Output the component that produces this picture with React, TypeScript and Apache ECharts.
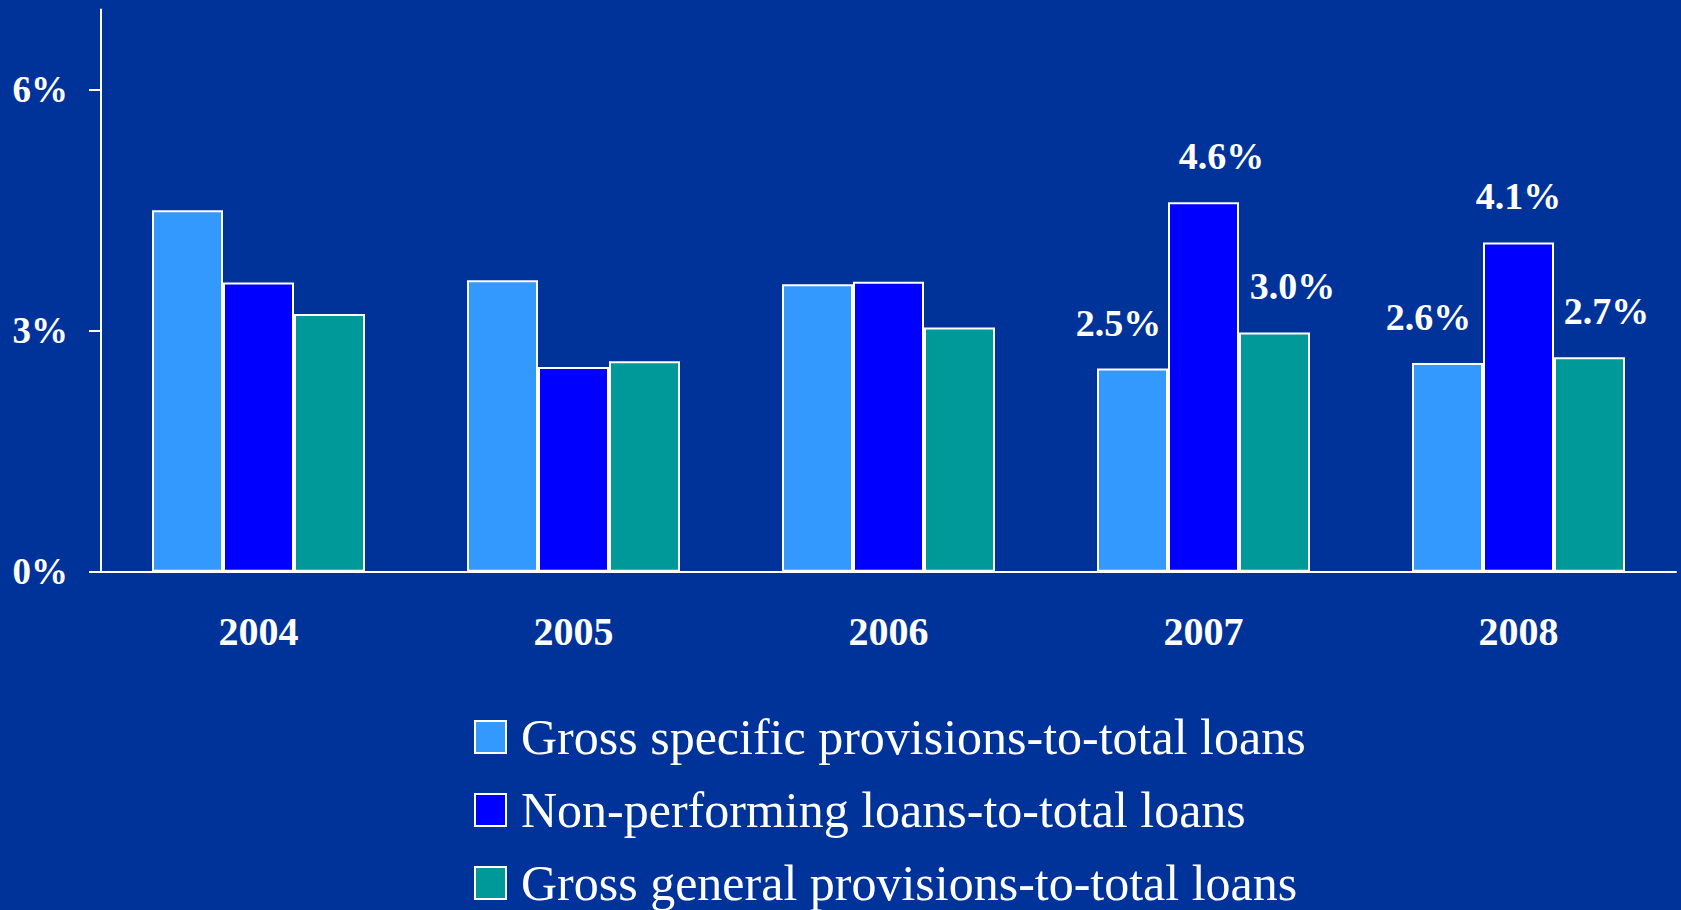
import React, { useEffect, useRef } from "react";
import * as echarts from "echarts";

const years = ["2004", "2005", "2006", "2007", "2008"];
const seriesNames = [
  "Gross specific provisions-to-total loans",
  "Non-performing loans-to-total loans",
  "Gross general provisions-to-total loans",
];
const specificProvisions = [4.5, 3.63, 3.58, 2.53, 2.6];
const nonPerforming = [3.6, 2.55, 3.61, 4.6, 4.1];
const generalProvisions = [3.21, 2.62, 3.04, 2.98, 2.67];
const yTicks = [0, 3, 6];
const labeledYears = ["2007", "2008"];

const colors = ["#3399FF", "#0000FF", "#009999"];
const labelOffsetsX = [
  [0, 0, 0, -14, -19],
  [0, 0, 0, 18, 0],
  [0, 0, 0, 18, 17],
];

const FONT = "'Liberation Serif', 'Times New Roman', serif";

export default function App() {
  const ref = useRef<HTMLDivElement>(null);
  useEffect(() => {
    document.body.style.margin = "0";
    const chart = echarts.init(ref.current!, null, { renderer: "svg" });
    const values = [specificProvisions, nonPerforming, generalProvisions];
    chart.setOption({
      animation: false,
      backgroundColor: "#003399",
      grid: { left: 101, right: 5, top: 9.6, bottom: 338.3, containLabel: false },
      legend: {
        orient: "vertical",
        left: 469,
        top: 707,
        height: 400,
        icon: "rect",
        itemWidth: 31,
        itemHeight: 32,
        itemGap: 23,
        data: seriesNames,
        textStyle: {
          color: "#ffffff",
          fontFamily: FONT,
          fontSize: 50,
          padding: [0, 0, 0, 10],
        },
      },
      xAxis: {
        type: "category",
        data: years,
        axisLine: { lineStyle: { color: "#ffffff", width: 2 } },
        axisTick: { length: 12, lineStyle: { color: "#ffffff", width: 2 } },
        axisLabel: {
          color: "#ffffff",
          fontFamily: FONT,
          fontWeight: "bold",
          fontSize: 40,
          margin: 40,
        },
      },
      yAxis: {
        type: "value",
        min: 0,
        max: 7,
        splitLine: { show: false },
        axisLine: { show: true, lineStyle: { color: "#ffffff", width: 2 } },
        axisTick: {
          show: true,
          length: 12,
          customValues: yTicks,
          lineStyle: { color: "#ffffff", width: 2 },
        },
        axisLabel: {
          customValues: yTicks,
          color: "#ffffff",
          fontFamily: FONT,
          fontWeight: "bold",
          fontSize: 37,
          margin: 33,
          formatter: (v: number) => `${v}%`,
        },
      },
      series: seriesNames.map((name, s) => ({
        name,
        type: "bar",
        barWidth: 71,
        barGap: "0%",
        itemStyle: { color: colors[s], borderColor: "#ffffff", borderWidth: 2 },
        label: {
          position: "top",
          distance: 27,
          color: "#ffffff",
          fontFamily: FONT,
          fontWeight: "bold",
          fontSize: 38,
          formatter: (p: any) => `${Number(p.value).toFixed(1)}%`,
        },
        data: values[s].map((v, i) => ({
          value: v,
          label: {
            show: labeledYears.includes(years[i]),
            offset: [labelOffsetsX[s][i], 0],
          },
        })),
      })),
    });
    return () => chart.dispose();
  }, []);
  return (
    <div
      ref={ref}
      style={{ position: "fixed", left: 0, top: 0, width: 1681, height: 910 }}
    />
  );
}
